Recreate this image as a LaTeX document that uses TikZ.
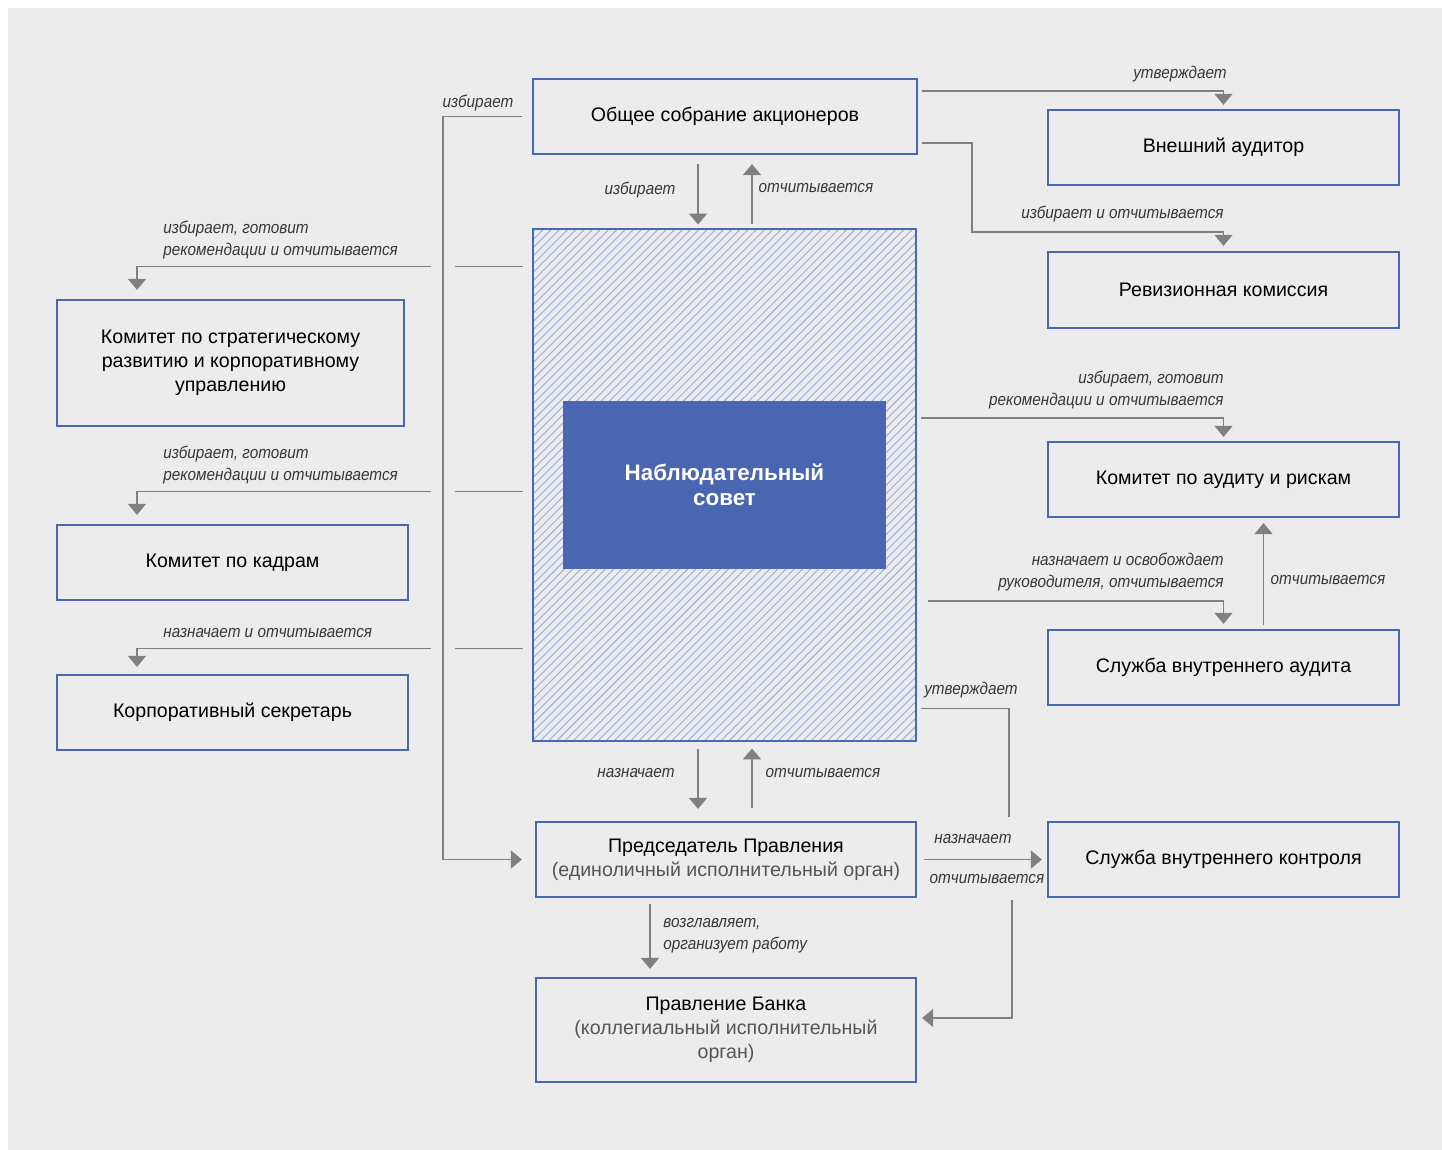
\documentclass[tikz,border=0pt]{standalone}
\usepackage{fontspec}
\setmainfont{Liberation Sans}
\newfontfamily\lblfont[FakeStretch=0.9]{Liberation Sans}
\usetikzlibrary{arrows.meta,calc,patterns.meta}
\definecolor{bgcol}{RGB}{236,236,236}
\definecolor{boxblue}{RGB}{74,103,181}
\definecolor{corefill}{RGB}{74,102,176}
\definecolor{hatchblue}{RGB}{150,170,225}
\definecolor{conngray}{RGB}{128,128,128}
\definecolor{labgray}{RGB}{55,55,55}
\definecolor{subgray}{RGB}{85,85,85}

\begin{document}
\begin{tikzpicture}[x=0.5pt,y=-0.5pt,
    box/.style={draw=boxblue,line width=1.1pt,align=center,inner sep=0pt,text=black,
        minimum width=175.5pt,minimum height=37.5pt,font=\fontsize{9.8}{12}\selectfont},
    lbl/.style={text=labgray,inner sep=0pt,font=\lblfont\fontsize{8.5}{11}\selectfont\itshape},
    conn/.style={draw=conngray,line width=0.7pt,-{Triangle[width=9pt,length=5.5pt]}},
    plain/.style={draw=conngray,line width=0.7pt}]
    \fill[bgcol] (8,8) rectangle (1442,1150);
    \useasboundingbox (0,0) rectangle (1442,1150);

    % boxes
    \node[box,minimum width=192pt] (osa) at (725,116.5) {Общее собрание акционеров};
    \node[box] (ext) at (1223.5,147.5) {Внешний аудитор};
    \node[box,minimum height=38pt] (rev) at (1223.5,290) {Ревизионная комиссия};
    \node[box,minimum width=173.5pt,minimum height=63pt] (strat) at (230.5,363) {Комитет по стратегическому\\развитию и корпоративному\\управлению};
    \node[box] (kadr) at (232.5,562.5) {Комитет по кадрам};
    \node[box] (sekr) at (232.5,712.5) {Корпоративный секретарь};
    \node[draw=boxblue,line width=1.1pt,pattern={Lines[angle=45,distance=2.9pt,line width=0.45pt]},pattern color=hatchblue,
        minimum width=191.5pt,minimum height=256pt] (board) at (724.5,485) {};
    \node[fill=corefill,minimum width=161.5pt,minimum height=84pt,text=white,align=center,
        font=\bfseries\fontsize{11.2}{12.5}\selectfont] (core) at (724.5,485) {Наблюдательный\\совет};
    \node[box] (audk) at (1223.5,479.5) {Комитет по аудиту и рискам};
    \node[box] (sva) at (1223.5,667.5) {Служба внутреннего аудита};
    \node[box,minimum width=190pt] (pred) at (726,859.5) {Председатель Правления\\{\color{subgray}(единоличный исполнительный орган)}};
    \node[box] (svk) at (1223.5,859.5) {Служба внутреннего контроля};
    \node[box,minimum width=190pt,minimum height=52pt] (prav) at (726,1030) {Правление Банка\\{\color{subgray}(коллегиальный исполнительный}\\{\color{subgray}орган)}};

    % general meeting
    \draw[conn] ($(osa.south)+(-27,9)$) -- ($(board.north)+(-26.5,-4)$);
    \draw[conn] ($(board.north)+(27.5,-5)$) -- ($(osa.south)+(27,9)$);
    \node[lbl] (l-osa-izb) at (640,190) {избирает};
    \node[lbl] (l-osa-otch) at (816,188) {отчитывается};
    \draw[conn] ($(osa.north east)+(4,13)$) -| ($(ext.north)+(0,-4)$);
    \node[lbl] (l-ext) at (1180,74) {утверждает};
    \draw[conn] ($(osa.south east)+(4,-12)$) -- ++(50,0) |- ($(rev.north)+(0,-19)$) -- ($(rev.north)+(0,-5)$);
    \node[lbl,anchor=east] (l-rev) at (1224,214) {избирает и отчитывается};
    \draw[conn] ($(osa.west)+(-10,0)$) -| ($(pred.west)+(-92,0)$) -- ($(pred.west)+(-13,0)$);
    \node[lbl] (l-pred-izb) at (478,103) {избирает};

    % board committees, left
    \draw[plain] ($(board.north west)+(-10,38)$) -- ($(board.north west)+(-78,38)$);
    \draw[conn] ($(board.north west)+(-102,38)$) -| ($(strat.north)+(-93.5,-9)$);
    \node[lbl,anchor=west,align=left] (l-strat) at (163,240) {избирает, готовит\\рекомендации и отчитывается};
    \draw[plain] ($(board.north west)+(-10,263)$) -- ($(board.north west)+(-78,263)$);
    \draw[conn] ($(board.north west)+(-102,263)$) -| ($(kadr.north)+(-95.5,-9)$);
    \node[lbl,anchor=west,align=left] (l-kadr) at (163,465.5) {избирает, готовит\\рекомендации и отчитывается};
    \draw[plain] ($(board.north west)+(-10,420)$) -- ($(board.north west)+(-78,420)$);
    \draw[conn] ($(board.north west)+(-102,420)$) -| ($(sekr.north)+(-95.5,-7)$);
    \node[lbl,anchor=west] (l-sekr) at (163,633) {назначает и отчитывается};

    % right side
    \draw[conn] ($(board.east)+(5,-67)$) -| ($(audk.north)+(0,-4)$);
    \node[lbl,anchor=east,align=right] (l-audk) at (1224,390.5) {избирает, готовит\\рекомендации и отчитывается};
    \draw[conn] ($(board.east)+(12,116)$) -| ($(sva.north)+(0,-5)$);
    \node[lbl,anchor=east,align=right] (l-sva) at (1224,572.5) {назначает и освобождает\\руководителя, отчитывается};
    \draw[conn] ($(sva.north)+(40,-4)$) -- ($(audk.south)+(40,5)$);
    \node[lbl] (l-sva-otch) at (1328,580) {отчитывается};

    % executive bodies
    \draw[conn] ($(board.south)+(-26.5,8)$) -- ($(pred.north)+(-28,-12)$);
    \draw[conn] ($(pred.north)+(26,-13)$) -- ($(board.south)+(27.5,7)$);
    \node[lbl] (l-pred-naz) at (636,773) {назначает};
    \node[lbl] (l-pred-otch) at (823,773) {отчитывается};
    \draw[plain] ($(board.south east)+(5,-33)$) -| ($(svk.west)+(-38,-43)$);
    \node[lbl] (l-svk-utv) at (971,690) {утверждает};
    \draw[conn] ($(pred.east)+(7,0)$) -- ($(svk.west)+(-5,0)$);
    \node[lbl] (l-svk-naz) at (973,839) {назначает};
    \node[lbl] (l-svk-otch) at (987,879) {отчитывается};
    \draw[conn] ($(svk.west)+(-35,40)$) |- ($(prav.east)+(5,-12)$);
    \draw[conn] ($(pred.south)+(-76,6)$) -- ($(prav.north)+(-76,-8)$);
    \node[lbl,anchor=west,align=left] (l-prav) at (663,935.5) {возглавляет,\\организует работу};
\end{tikzpicture}
\end{document}
